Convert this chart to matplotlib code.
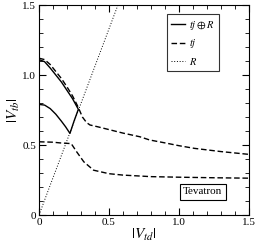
import matplotlib
matplotlib.use("Agg")
import matplotlib.pyplot as plt
from matplotlib.ticker import MultipleLocator

plt.rcParams['font.family'] = 'Liberation Serif'
plt.rcParams['mathtext.fontset'] = 'stix'

# tj (+) R : closed loop, upper branch then lower branch back to x=0
comb_x = [0.0, 0.04, 0.08, 0.12, 0.16, 0.20, 0.24, 0.281,
          0.25, 0.221, 0.19, 0.16, 0.12, 0.08, 0.04, 0.0]
comb_y = [1.11, 1.095, 1.05, 1.0, 0.95, 0.89, 0.83, 0.755,
          0.67, 0.583, 0.63, 0.67, 0.72, 0.76, 0.785, 0.79]

# tj only, upper and lower
tj_up_x = [0.0, 0.04, 0.08, 0.12, 0.16, 0.20, 0.24, 0.28, 0.31, 0.34, 0.364,
           0.42, 0.5, 0.6, 0.72, 0.79, 0.9, 1.0, 1.11, 1.3, 1.5]
tj_up_y = [1.12, 1.11, 1.075, 1.025, 0.975, 0.915, 0.85, 0.77, 0.70, 0.66, 0.643,
           0.63, 0.61, 0.585, 0.559, 0.536, 0.515, 0.495, 0.476, 0.453, 0.433]
tj_lo_x = [0.0, 0.1, 0.15, 0.23, 0.27, 0.32, 0.39, 0.5, 0.6, 0.8, 1.0, 1.25, 1.5]
tj_lo_y = [0.523, 0.52, 0.515, 0.51, 0.45, 0.38, 0.32, 0.295, 0.285, 0.274, 0.27, 0.266, 0.263]

# R only
r_x = [0.0, 0.6]
r_y = [0.0, 1.596]

fig = plt.figure(figsize=(2.57, 2.45), dpi=100)
ax = fig.add_axes([39/257, 30/245, 210/257, 210/245])

ax.plot(comb_x, comb_y, color='black', lw=1.0, label=r'$tj \oplus R$')
ax.plot(tj_up_x, tj_up_y, color='black', lw=1.0, ls=(0, (4, 2)), label=r'$tj$')
ax.plot(tj_lo_x, tj_lo_y, color='black', lw=1.0, ls=(0, (4, 2)))
ax.plot(r_x, r_y, color='black', lw=0.7, ls=(0, (1, 1.8)), label=r'$R$')

ax.set_xlim(0, 1.5)
ax.set_ylim(0, 1.5)
ax.xaxis.set_minor_locator(MultipleLocator(0.1))
ax.yaxis.set_minor_locator(MultipleLocator(0.1))
ax.set_yticks([0, 0.5, 1.0, 1.5])
ax.set_xticks([0, 0.5, 1.0, 1.5])
ax.set_xticklabels(['0', '0.5', '1.0', '1.5'], fontsize=8)
ax.set_yticklabels(['0', '0.5', '1.0', '1.5'], fontsize=8)
ax.tick_params(which='both', direction='in', top=True, right=True, pad=2)
ax.tick_params(which='major', length=5, width=0.8)
ax.tick_params(which='minor', length=3, width=0.6)

ax.set_xlabel(r'$|V_{td}|$', fontsize=11, labelpad=0)
ax.set_ylabel(r'$|V_{tb}|$', fontsize=11, labelpad=0)

leg = ax.legend(loc='upper left', bbox_to_anchor=(0.61, 0.955), fontsize=7.5,
                frameon=True, fancybox=False, edgecolor='black',
                handlelength=1.3, handletextpad=0.4, borderpad=0.4, labelspacing=0.55,
                borderaxespad=0)
leg.get_frame().set_linewidth(0.8)

ax.text(0.78, 0.11, 'Tevatron', transform=ax.transAxes, fontsize=8,
        ha='center', va='center',
        bbox=dict(boxstyle='square,pad=0.3', fc='white', ec='black', lw=0.8))

fig.savefig('out.png', dpi=100)
